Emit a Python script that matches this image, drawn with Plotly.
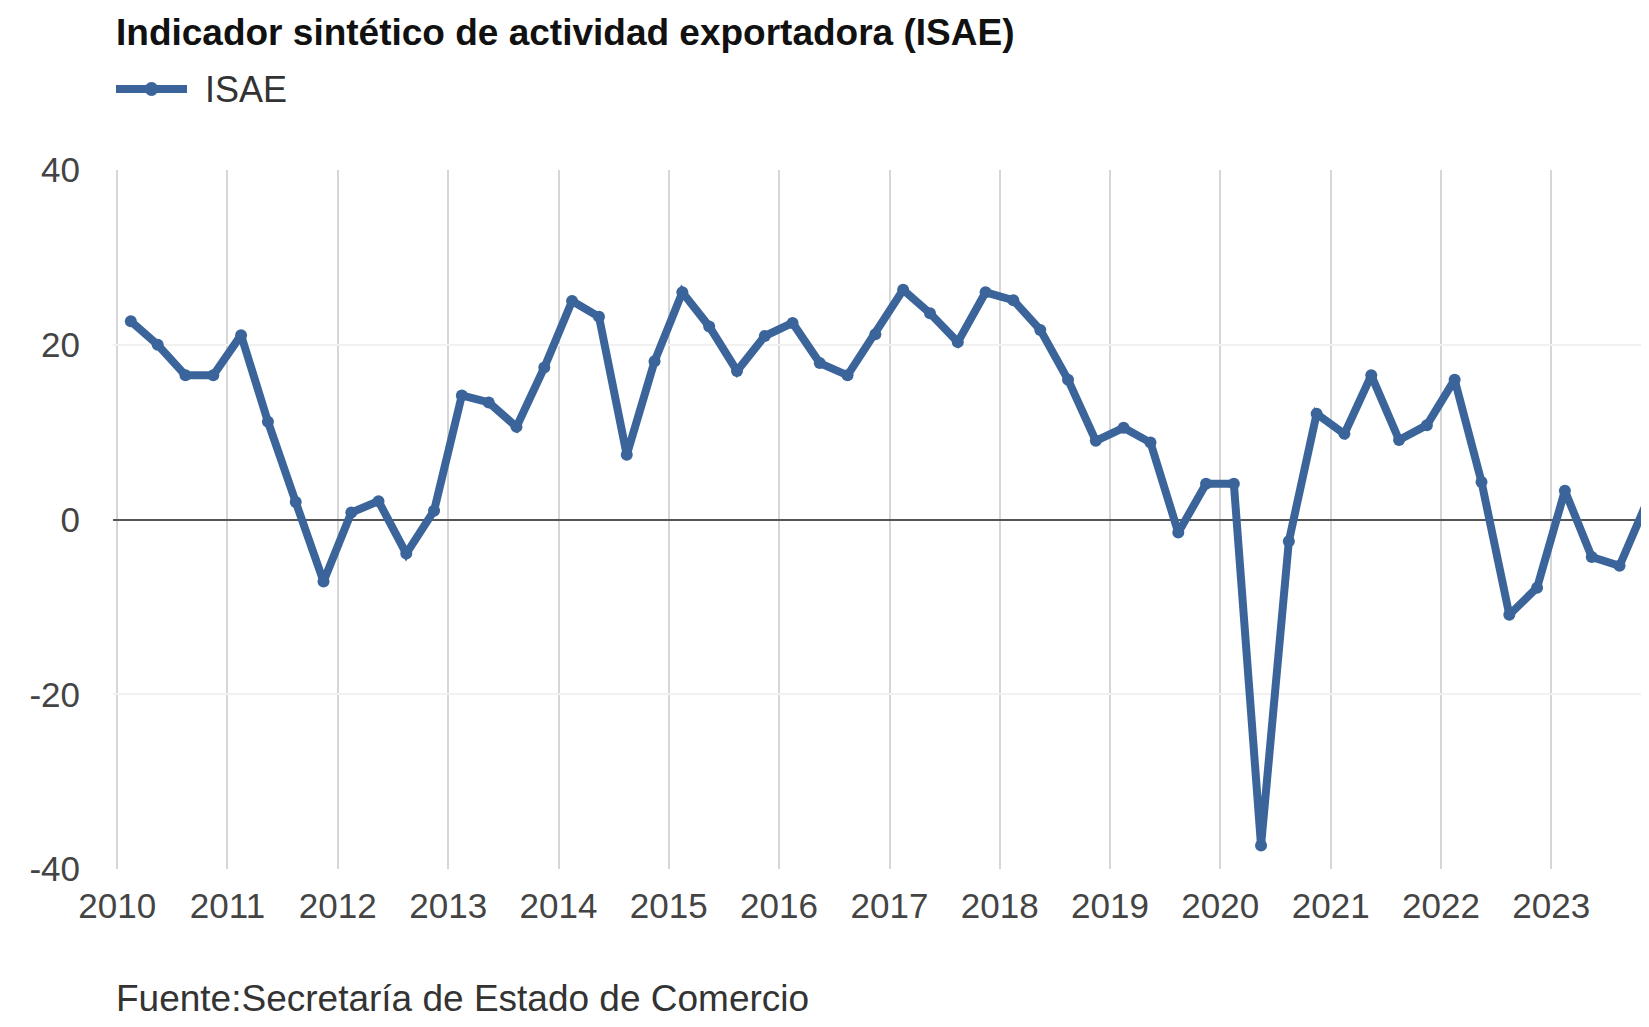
"""
Indicador sintético de actividad exportadora (ISAE) - gráfico de línea trimestral.
"""

import pandas as pd
import plotly.graph_objects as go


# ==========================================================
# DATOS
# ==========================================================
TITLE = "Indicador sintético de actividad exportadora (ISAE)"
SOURCE = "Fuente:Secretaría de Estado de Comercio"
SERIES_NAME = "ISAE"

years = list(range(2010, 2024))
quarter_months = [2, 5, 8, 11]  # punto a mitad de cada trimestre

isae = [
    22.7, 20.0, 16.5, 16.5,   # 2010
    21.1, 11.2, 2.0, -7.1,    # 2011
    0.8, 2.1, -3.9, 1.0,      # 2012
    14.2, 13.4, 10.6, 17.4,   # 2013
    25.0, 23.2, 7.4, 18.1,    # 2014
    26.0, 22.1, 17.0, 21.0,   # 2015
    22.5, 17.9, 16.5, 21.2,   # 2016
    26.3, 23.6, 20.3, 26.0,   # 2017
    25.1, 21.7, 16.0, 9.0,    # 2018
    10.5, 8.8, -1.5, 4.1,     # 2019
    4.1, -37.3, -2.5, 12.1,   # 2020
    9.8, 16.5, 9.1, 10.8,     # 2021
    16.0, 4.3, -10.9, -7.8,   # 2022
    3.3, -4.3, -5.3, 2.1,     # 2023
]

y_ticks = [-40, -20, 0, 20, 40]
y_labels = ["-40", "-20", "0", "20", "40"]

LINE_COLOR = "#3b659a"
FONT = "Liberation Sans, Arial, sans-serif"

dates = [pd.Timestamp(y, m, 15) for y in years for m in quarter_months]
df = pd.DataFrame({"fecha": dates, "isae": isae})


# ==========================================================
# GRAFICO
# ==========================================================
# la página añade 8 px de margen: la figura empieza en (8, 8) de la ventana
OFF = 8
PAD_LEFT = 4  # px antes de la rejilla de 2010 para que se dibuje
W, H = 1649 - 2 * OFF, 1027 - 2 * OFF
L, T, B = 117 - OFF - PAD_LEFT, 170 - OFF, H - (869 - OFF)
plot_w = W - L
plot_h = H - T - B


def px_to_paper(px, py):
    """Coordenadas de la ventana -> coordenadas paper."""
    return (px - OFF - L) / plot_w, (H - B - (py - OFF)) / plot_h


fig = go.Figure()
fig.add_trace(go.Scatter(
    x=df["fecha"], y=df["isae"],
    mode="lines+markers",
    name=SERIES_NAME,
    line=dict(color=LINE_COLOR, width=8),
    marker=dict(color=LINE_COLOR, size=12),
    showlegend=False,
))

fig.update_layout(
    width=W, height=H,
    margin=dict(l=L, r=0, t=T, b=B),
    paper_bgcolor="white",
    plot_bgcolor="white",
    font=dict(family=FONT, size=36, color="#444444"),
    title=dict(
        text=f"<b>{TITLE}</b>",
        x=(116 - OFF) / W, xanchor="left",
        y=1 - (32 - OFF) / H, yanchor="middle",
        font=dict(family=FONT, size=37, color="#111111"),
    ),
)

fig.update_xaxes(
    type="date",
    range=["2009-12-18", "2023-10-25"],
    tick0="2010-01-01", dtick="M12", tickformat="%Y",
    showgrid=True, gridcolor="#d6d6d6", gridwidth=2,
    zeroline=False, showline=False, ticks="",
    ticklabelstandoff=13,
    tickfont=dict(size=35, color="#444444"),
)
fig.update_yaxes(
    range=[-40, 40],
    tickvals=y_ticks, ticktext=y_labels,
    showgrid=True, gridcolor="#f1f1f1", gridwidth=2,
    zeroline=True, zerolinecolor="#555555", zerolinewidth=2,
    showline=False, ticks="",
    ticklabelstandoff=32,
    tickfont=dict(size=35, color="#444444"),
)

# Leyenda dibujada a mano (línea larga con marcador central)
x0, yl = px_to_paper(116, 89)
x1, _ = px_to_paper(187, 89)
xc, _ = px_to_paper(151.5, 89)
fig.add_shape(type="line", xref="paper", yref="paper",
              x0=x0, x1=x1, y0=yl, y1=yl,
              line=dict(color=LINE_COLOR, width=8))
rx = 6.5 / plot_w
ry = 6.5 / plot_h
fig.add_shape(type="circle", xref="paper", yref="paper",
              x0=xc - rx, x1=xc + rx, y0=yl - ry, y1=yl + ry,
              fillcolor=LINE_COLOR, line=dict(color=LINE_COLOR, width=1))
xt, _ = px_to_paper(203, 89)
fig.add_annotation(
    xref="paper", yref="paper", x=xt, y=yl,
    text=SERIES_NAME, showarrow=False,
    xanchor="left", yanchor="middle",
    font=dict(family=FONT, size=36, color="#333333"),
)

# Fuente
xs, ys = px_to_paper(114, 998)
fig.add_annotation(
    xref="paper", yref="paper", x=xs, y=ys,
    text=SOURCE, showarrow=False,
    xanchor="left", yanchor="middle",
    font=dict(family=FONT, size=37, color="#333333"),
)

fig.write_html("out.html")
